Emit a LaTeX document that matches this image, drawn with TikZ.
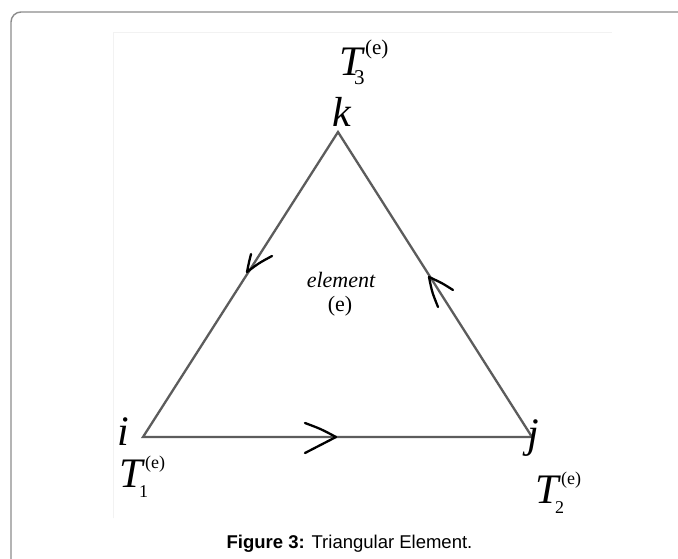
\documentclass[tikz,border=0pt]{standalone}
\usepackage{fontspec}
\setmainfont{Liberation Serif}
\setsansfont{Liberation Sans}
% #1 index, #2 script size, #3 raise of (e), #4 back-kern of index, #5 lowering of index
\newcommand{\Tlabel}[5]{\textit{T}\kern-#4pt\makebox[0pt][l]{\raisebox{-#5pt}{\fontsize{#2}{#2}\selectfont #1}}\kern#4pt\raisebox{#3pt}{\fontsize{#2}{#2}\selectfont (e)}}
\begin{document}
\begin{tikzpicture}[x=1pt,y=-1pt,
  edge/.style={draw=black!64,line width=2.3pt},
  chev/.style={draw=black,line width=2.3pt,line cap=round,line join=round},
  lab/.style={inner sep=0pt,anchor=base west,font=\fontsize{42}{42}\selectfont}]
\useasboundingbox (0,0) rectangle (678,558);
\fill[white] (0,0) rectangle (678,558);
% outer frame
\draw[black!45,line width=1.4pt,rounded corners=10pt] (11,620) -- (11,12) -- (720,12);
% inner image border
\draw[black!5,line width=1pt] (113,518) -- (113,32) -- (612,32);
% vertices
\coordinate (i) at (143,437);
\coordinate (j) at (532,437);
\coordinate (k) at (338,132);
\draw[edge,line join=miter] (i) -- (j) -- (k) -- cycle;
% chevrons
\draw[chev] (251,254) .. controls (249,262) .. (247,272) .. controls (259,263) .. (272,256);
\draw[chev] (438,307) .. controls (432,292) .. (429,277) .. controls (442,283) .. (453,290);
\draw[chev] (305,423) .. controls (321,429) .. (336,437) .. controls (320,445) .. (305,453);
% labels
\node[lab] (lk) at (332,126) {\textit{k}};
\node[lab] (lT3) at (339,75) {\Tlabel{3}{21}{21}{11}{9}};
\node[lab] (li) at (117,445) {\textit{i}};
\node[lab] (lT1) at (119,487) {\Tlabel{1}{18}{19}{6}{10}};
\node[lab] (lj) at (527,447) {\textit{j}};
\node[lab] (lT2) at (535,503) {\Tlabel{2}{18}{19}{6}{10}};
\node[inner sep=0pt,anchor=base,font=\fontsize{22}{22}\selectfont\itshape] (el) at (341,287) {element};
\node[inner sep=0pt,anchor=base,font=\fontsize{22}{22}\selectfont] (ee) at (340,311) {(e)};
\node[inner sep=0pt,anchor=base,font=\sffamily\fontsize{18.5}{18.5}\selectfont] (cap) at (349.5,548) {\textbf{Figure 3:} Triangular Element.};
\end{tikzpicture}
\end{document}
